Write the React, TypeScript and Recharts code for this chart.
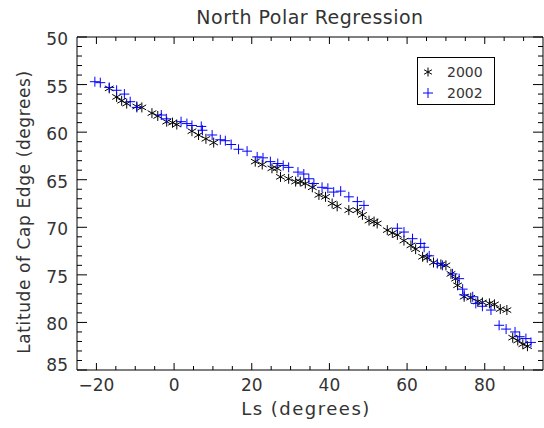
import { Legend, Scatter, ScatterChart, XAxis, YAxis } from 'recharts';

// Ls (degrees) vs latitude of cap edge (degrees)
const LS_2000 = [
  -16.7, -14.8, -13.5, -12.2, -9.6, -8.3, -5.7, -4.2, -1.9, -0.4, 0.7, 4.6, 6.3, 8.2, 10.2,
  20.9, 22.7, 25.2, 26.5, 27.4, 29.5, 31.3, 32.5, 33.8, 35.6, 37.3, 39.0, 40.7, 42.0, 45.0,
  47.2, 48.5, 50.2, 51.5, 52.3, 54.9, 56.2, 57.5, 59.2, 61.0, 62.2, 64.0, 65.2, 66.8, 68.7,
  70.0, 71.3, 72.5, 73.0, 74.7, 76.4, 78.2, 79.4, 81.2, 82.5, 84.0, 85.7, 87.2, 88.5, 89.8,
  91.0,
];
const LAT_2000 = [
  55.4, 56.3, 56.7, 57.0, 57.3, 57.4, 58.0, 58.3, 58.9, 59.0, 59.2, 59.9, 60.3, 60.7, 61.1,
  63.1, 63.4, 63.8, 63.8, 64.7, 64.9, 65.2, 65.2, 65.4, 65.8, 66.6, 66.8, 67.5, 67.8, 68.2,
  68.2, 68.7, 69.3, 69.4, 69.6, 70.3, 70.6, 70.8, 71.4, 71.9, 72.3, 73.1, 73.2, 73.7, 73.9,
  74.0, 74.9, 75.4, 76.1, 77.3, 77.4, 77.8, 77.9, 78.0, 78.1, 78.6, 78.7, 81.6, 81.9, 82.3,
  82.5,
];

const LS_2002 = [
  -20.4, -19.0, -16.7, -14.8, -12.8, -11.3, -9.6, -3.3, -2.0, 1.8, 3.3, 4.6, 7.0, 7.3, 9.8,
  11.9, 13.2, 14.7, 16.6, 18.8, 21.4, 22.9, 24.8, 26.7, 28.1, 29.5, 31.9, 33.4, 34.7, 36.0,
  38.1, 39.6, 41.1, 42.9, 45.0, 47.2, 48.9, 57.5, 59.2, 61.4, 63.5, 64.4, 65.7, 67.8, 69.1,
  71.7, 73.4, 74.3, 74.7, 76.9, 77.7, 79.4, 81.6, 83.7, 85.5, 87.8, 89.0, 90.6, 91.9,
];
const LAT_2002 = [
  54.7, 54.8, 55.3, 55.6, 56.0, 56.8, 57.4, 58.2, 58.6, 58.9, 59.1, 59.3, 59.4, 59.8, 60.3,
  60.8, 60.9, 61.3, 61.8, 62.0, 62.6, 62.7, 63.1, 63.3, 63.5, 63.7, 64.2, 64.4, 64.9, 65.4,
  65.8, 65.9, 66.3, 66.2, 66.8, 67.3, 67.7, 70.1, 70.5, 71.2, 71.7, 72.1, 73.0, 73.8, 74.0,
  74.9, 75.4, 76.5, 77.1, 77.3, 78.0, 78.3, 78.7, 80.3, 80.7, 81.0, 81.5, 81.7, 82.1,
];

const X_TICKS = Array.from({ length: 23 }, (_, i) => -20 + i * 5);
const Y_TICKS = Array.from({ length: 36 }, (_, i) => 50 + i);

const data2000 = LS_2000.map((ls, i) => ({ ls, lat: LAT_2000[i] }));
const data2002 = LS_2002.map((ls, i) => ({ ls, lat: LAT_2002[i] }));

const FONT = '"DejaVu Sans", sans-serif';
const INK = '#333';
const fmt = (v: number) => (v < 0 ? `\u2212${-v}` : `${v}`);

function Asterisk({ cx, cy, r = 5 }: any) {
  const dx = r * 0.87;
  const dy = r * 0.5;
  return (
    <g stroke="#000" strokeWidth={1}>
      <line x1={cx} y1={cy - r} x2={cx} y2={cy + r} />
      <line x1={cx - dx} y1={cy - dy} x2={cx + dx} y2={cy + dy} />
      <line x1={cx - dx} y1={cy + dy} x2={cx + dx} y2={cy - dy} />
    </g>
  );
}

function Plus({ cx, cy, r = 5 }: any) {
  return (
    <g stroke="#0000ff" strokeWidth={1}>
      <line x1={cx - r} y1={cy} x2={cx + r} y2={cy} />
      <line x1={cx} y1={cy - r} x2={cx} y2={cy + r} />
    </g>
  );
}

function XTick({ x, y, payload, top }: any) {
  const v = payload.value;
  const major = v % 20 === 0;
  const len = major ? 7 : 4;
  return (
    <g>
      <line x1={x} x2={x} y1={y} y2={top ? y + len : y - len} stroke="#000" />
      {!top && major && (
        <text x={x} y={y + 21} textAnchor="middle" fontSize={17} fontFamily={FONT} fill={INK}>
          {fmt(v)}
        </text>
      )}
    </g>
  );
}

function YTick({ x, y, payload, right }: any) {
  const v = payload.value;
  const major = v % 5 === 0;
  const len = major ? 10 : 5;
  // the last label sits just above the bottom axis, as in the original plot
  const dy = v === 85 ? 1 : 8;
  return (
    <g>
      <line x1={x} x2={right ? x - len : x + len} y1={y} y2={y} stroke="#000" />
      {!right && major && (
        <text x={x - 9} y={y + dy} textAnchor="end" fontSize={17} fontFamily={FONT} fill={INK}>
          {v}
        </text>
      )}
    </g>
  );
}

function LegendBox() {
  return (
    <svg width={78} height={48} style={{ display: 'block', overflow: 'visible' }}>
      <rect x={0.5} y={0.5} width={77} height={47} fill="#fff" stroke="#000" />
      <Asterisk cx={11} cy={15} r={4.5} />
      <text x={30} y={20} fontSize={14} fontFamily={FONT} fill={INK}>2000</text>
      <Plus cx={11} cy={36} r={5} />
      <text x={30} y={41} fontSize={14} fontFamily={FONT} fill={INK}>2002</text>
    </svg>
  );
}

export default function App() {
  return (
    <div style={{ position: 'relative', width: 544, height: 428, background: '#fff' }}>
      <style>{'body{margin:0}'}</style>
      <ScatterChart width={544} height={428} margin={{ top: 36, right: 0, bottom: 0, left: 0 }}>
        <XAxis
          xAxisId="b"
          type="number"
          dataKey="ls"
          domain={[-25, 95]}
          ticks={X_TICKS}
          interval={0}
          height={58}
          tickSize={0}
          tickMargin={0}
          tickLine={false}
          stroke="#000"
          tick={<XTick />}
          allowDataOverflow
        />
        <XAxis
          xAxisId="t"
          orientation="top"
          type="number"
          dataKey="ls"
          domain={[-25, 95]}
          ticks={X_TICKS}
          interval={0}
          height={1}
          tickSize={0}
          tickMargin={0}
          tickLine={false}
          stroke="#000"
          tick={<XTick top />}
          allowDataOverflow
        />
        <YAxis
          yAxisId="l"
          type="number"
          dataKey="lat"
          domain={[50, 85]}
          reversed
          ticks={Y_TICKS}
          interval={0}
          width={77}
          tickSize={0}
          tickMargin={0}
          tickLine={false}
          stroke="#000"
          tick={<YTick />}
          allowDataOverflow
        />
        <YAxis
          yAxisId="r"
          orientation="right"
          type="number"
          dataKey="lat"
          domain={[50, 85]}
          reversed
          ticks={Y_TICKS}
          interval={0}
          width={1}
          tickSize={0}
          tickMargin={0}
          tickLine={false}
          stroke="#000"
          tick={<YTick right />}
          allowDataOverflow
        />
        <Scatter
          name="2000"
          data={data2000}
          xAxisId="b"
          yAxisId="l"
          shape={<Asterisk />}
          isAnimationActive={false}
        />
        <Scatter
          name="2002"
          data={data2002}
          xAxisId="t"
          yAxisId="r"
          shape={<Plus />}
          isAnimationActive={false}
        />
        <Legend
          content={<LegendBox />}
          wrapperStyle={{ position: 'absolute', left: 417, top: 57, width: 0, height: 0, overflow: 'visible' }}
        />
        <text x={310} y={24} textAnchor="middle" fontSize={19} fontFamily={FONT} fill={INK} letterSpacing={0.5}>
          North Polar Regression
        </text>
        <text x={306} y={415} textAnchor="middle" fontSize={18} fontFamily={FONT} fill={INK} letterSpacing={1.5}>
          Ls (degrees)
        </text>
        <text
          x={30}
          y={212}
          transform="rotate(-90 30 212)"
          textAnchor="middle"
          fontSize={17}
          fontFamily={FONT}
          fill={INK}
          letterSpacing={0.6}
        >
          Latitude of Cap Edge (degrees)
        </text>
      </ScatterChart>
    </div>
  );
}
